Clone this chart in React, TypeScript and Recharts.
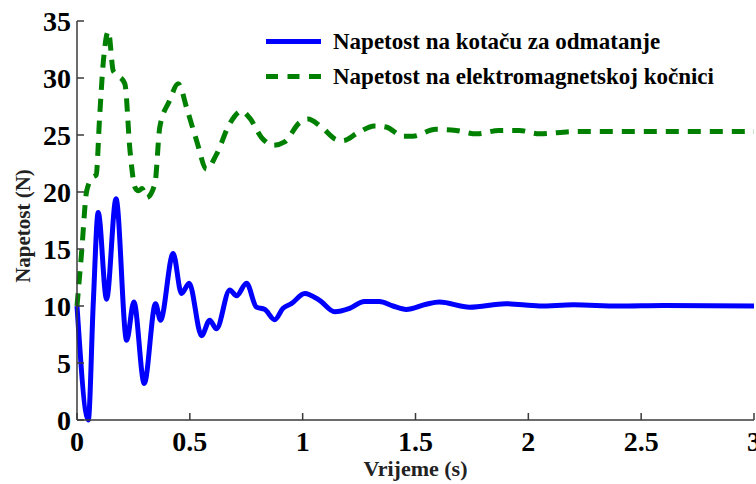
import React from "react";
import { LineChart, Line, XAxis, YAxis, Legend } from "recharts";

// Napetost na kotaču za odmatanje (blue)
const blueTime = [0, 0.05, 0.072, 0.094, 0.131, 0.173, 0.22, 0.252, 0.298, 0.348, 0.37, 0.426, 0.463, 0.497, 0.552, 0.588, 0.618, 0.677, 0.707, 0.751, 0.795, 0.832, 0.876, 0.913, 0.95, 1.009, 1.075, 1.142, 1.208, 1.274, 1.34, 1.4, 1.459, 1.547, 1.606, 1.74, 1.9, 2.05, 2.2, 2.4, 2.6, 3.0];
const blueValue = [10, 0, 10.2, 18.2, 10.6, 19.4, 7.0, 10.35, 3.2, 10.2, 8.75, 14.6, 11.1, 12.0, 7.4, 8.75, 8.0, 11.4, 10.9, 12.0, 9.9, 9.7, 8.8, 9.8, 10.2, 11.1, 10.5, 9.5, 9.8, 10.4, 10.4, 10.0, 9.7, 10.15, 10.35, 9.9, 10.2, 10.0, 10.1, 10.0, 10.05, 10.0];

// Napetost na elektromagnetskoj kočnici (green dashed)
const greenTime = [0, 0.02, 0.043, 0.07, 0.085, 0.1, 0.117, 0.139, 0.161, 0.183, 0.212, 0.235, 0.257, 0.272, 0.288, 0.308, 0.345, 0.367, 0.41, 0.448, 0.49, 0.53, 0.574, 0.618, 0.677, 0.729, 0.765, 0.817, 0.869, 0.92, 0.987, 1.023, 1.083, 1.149, 1.178, 1.245, 1.318, 1.37, 1.444, 1.488, 1.59, 1.68, 1.77, 1.87, 1.96, 2.05, 2.2, 3.0];
const greenValue = [10, 14.6, 20.1, 21.3, 21.5, 26.5, 31.5, 34.1, 30.6, 30.2, 29.5, 23.6, 20.4, 20.1, 20.3, 19.5, 20.7, 25.7, 28.0, 29.5, 27.1, 24.5, 22.0, 23.3, 26.0, 27.1, 26.5, 24.8, 24.1, 24.4, 26.1, 26.4, 25.7, 24.6, 24.5, 25.2, 25.8, 25.7, 24.9, 24.9, 25.5, 25.4, 25.1, 25.4, 25.4, 25.1, 25.3, 25.3];

const xTicks = [0, 0.5, 1, 1.5, 2, 2.5, 3];
const yTicks = [0, 5, 10, 15, 20, 25, 30, 35];

const seriesNames = ["Napetost na kotaču za odmatanje", "Napetost na elektromagnetskoj kočnici"];
const xLabel = "Vrijeme (s)";
const yLabel = "Napetost (N)";

const blueData = blueTime.map((t, i) => ({ t, v: blueValue[i] }));
const greenData = greenTime.map((t, i) => ({ t, v: greenValue[i] }));

const FONT = "'Liberation Serif', 'Times New Roman', serif";
const AXIS = "#3a3a3a";

const YTick = (props: any) => {
  const { x, y, payload } = props;
  return (
    <g>
      <line x1={x} y1={y} x2={x + 7} y2={y} stroke={AXIS} strokeWidth={1.5} />
      <text x={x - 6} y={y + 10} textAnchor="end" fontFamily={FONT} fontWeight="bold" fontSize={28} fill="#000">
        {payload.value}
      </text>
    </g>
  );
};

const XTick = (props: any) => {
  const { x, y, payload } = props;
  return (
    <g>
      <line x1={x} y1={y} x2={x} y2={y - 7} stroke={AXIS} strokeWidth={1.5} />
      <text x={x} y={y + 31} textAnchor="middle" fontFamily={FONT} fontWeight="bold" fontSize={28} fill="#000">
        {payload.value}
      </text>
    </g>
  );
};

const LegendContent = () => (
  <div style={{ fontFamily: FONT, fontWeight: "bold", fontSize: 23, color: "#000", lineHeight: "35px" }}>
    <div style={{ display: "flex", alignItems: "center", whiteSpace: "nowrap" }}>
      <svg width={67} height={35}>
        <line x1={0} y1={17.5} x2={55} y2={17.5} stroke="#0000ff" strokeWidth={5} />
      </svg>
      <span>{seriesNames[0]}</span>
    </div>
    <div style={{ display: "flex", alignItems: "center", whiteSpace: "nowrap" }}>
      <svg width={67} height={35}>
        <line x1={0} y1={17.5} x2={55} y2={17.5} stroke="#008000" strokeWidth={5} strokeDasharray="12 9.5" />
      </svg>
      <span>{seriesNames[1]}</span>
    </div>
  </div>
);

export default function App() {
  return (
    <div style={{ position: "absolute", left: 0, top: 0, width: 756, height: 484, background: "#fff" }}>
      <LineChart width={756} height={484} margin={{ top: 21, right: 2, bottom: 0, left: 0 }}>
        <XAxis
          type="number"
          dataKey="t"
          domain={[0, 3]}
          ticks={xTicks}
          interval={0}
          height={64}
          tickSize={0}
          tickMargin={0}
          tickLine={false}
          tick={<XTick />}
          axisLine={{ stroke: AXIS, strokeWidth: 1.5 }}
          label={{
            content: (p: any) => {
              const vb = p.viewBox;
              return (
                <text x={vb.x + vb.width / 2} y={vb.y + 56} textAnchor="middle" fontFamily={FONT} fontWeight="bold" fontSize={22} fill="#222">
                  {xLabel}
                </text>
              );
            },
          }}
        />
        <YAxis
          type="number"
          domain={[0, 35]}
          ticks={yTicks}
          interval={0}
          width={77}
          tickSize={0}
          tickMargin={0}
          tickLine={false}
          tick={<YTick />}
          axisLine={{ stroke: AXIS, strokeWidth: 1.5 }}
          label={{
            content: (p: any) => {
              const vb = p.viewBox;
              const cx = 23;
              const cy = vb.y + 205;
              return (
                <text x={cx} y={cy} transform={`rotate(-90 ${cx} ${cy})`} textAnchor="middle" dominantBaseline="central" fontFamily={FONT} fontWeight="bold" fontSize={21} fill="#222">
                  {yLabel}
                </text>
              );
            },
          }}
        />
        <Legend
          layout="horizontal"
          verticalAlign="middle"
          align="center"
          content={<LegendContent />}
          wrapperStyle={{ position: "absolute", top: 24, left: 266, width: "auto", height: "auto" }}
        />
        <Line
          data={blueData}
          dataKey="v"
          type="monotone"
          stroke="#0000ff"
          strokeWidth={5}
          dot={false}
          isAnimationActive={false}
          name={seriesNames[0]}
        />
        <Line
          data={greenData}
          dataKey="v"
          type="monotone"
          stroke="#008000"
          strokeWidth={5}
          strokeDasharray="13 9"
          dot={false}
          isAnimationActive={false}
          name={seriesNames[1]}
        />
      </LineChart>
    </div>
  );
}
